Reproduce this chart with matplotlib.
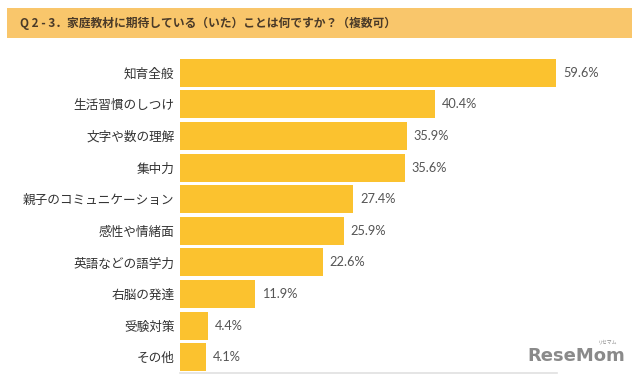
import matplotlib.pyplot as plt
from matplotlib.patches import Rectangle

plt.rcParams['font.family'] = ['Noto Sans CJK JP', 'DejaVu Sans']

title = "Q 2 - 3．家庭教材に期待している（いた）ことは何ですか？（複数可）"
labels = ["知育全般", "生活習慣のしつけ", "文字や数の理解", "集中力", "親子のコミュニケーション",
          "感性や情緒面", "英語などの語学力", "右脳の発達", "受験対策", "その他"]
values = [59.6, 40.4, 35.9, 35.6, 27.4, 25.9, 22.6, 11.9, 4.4, 4.1]

W, H = 640, 382
fig = plt.figure(figsize=(W / 100, H / 100), dpi=100)

# header band
fig.patches.append(Rectangle((7 / W, 1 - 38 / H), 625 / W, 30 / H,
                             transform=fig.transFigure, facecolor="#F9C66B",
                             edgecolor="none", zorder=0))
fig.text(20 / W, 1 - 23 / H, title, fontsize=8.5, fontweight="bold",
         color="#4a3a28", va="center", ha="left")

ax = fig.add_axes([180 / W, 1 - 373 / H, 377 / W, 316 / H])
y = range(len(labels))
ax.barh(y, values, height=0.88, color="#FBC22F")
ax.set_ylim(len(labels) - 0.5, -0.5)
ax.set_xlim(0, 59.7)
ax.set_yticks(list(y))
ax.set_yticklabels(labels, fontsize=9.1, color="#333333")
ax.tick_params(axis="y", length=0, pad=4)
ax.set_xticks([])
for s in ["top", "right", "left"]:
    ax.spines[s].set_visible(False)
ax.spines["bottom"].set_color("#e0e0e0")
ax.spines["bottom"].set_linewidth(1.2)

for i, v in enumerate(values):
    ax.annotate(f"{v}%", (v, i), xytext=(5, 0), textcoords="offset points",
                va="center", ha="left", fontsize=9.2, color="#555555",
                family=["Lato", "DejaVu Sans"], annotation_clip=False)

fig.text(625 / W, 1 - 356 / H, "ReseMom", fontsize=13, fontweight="bold",
         color="#8a8a8a", ha="right", va="center", family=["DejaVu Sans"])
fig.text(617 / W, 1 - 342 / H, "リセマム", fontsize=3.5, color="#8a8a8a",
         ha="right", va="center")

fig.savefig("out.png", dpi=100, facecolor="white")
